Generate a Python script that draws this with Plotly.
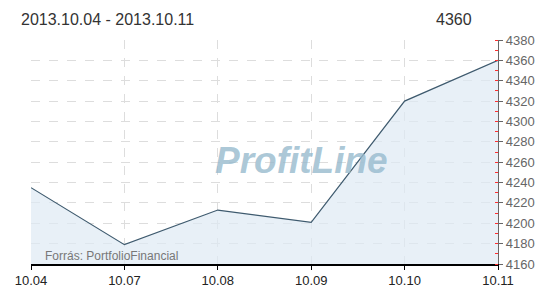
import plotly.graph_objects as go

dates = ["10.04", "10.07", "10.08", "10.09", "10.10", "10.11"]
values = [4235, 4179, 4213, 4201, 4320, 4360]
title_text = "2013.10.04 - 2013.10.11"
last_value = "4360"
source_text = "Forrás: PortfolioFinancial"
watermark = "ProfitLine"

fig = go.Figure()
fig.add_trace(go.Scatter(
    x=dates, y=values, mode="lines",
    line=dict(color="#3e5a6e", width=1.2),
    fill="tozeroy", fillcolor="rgba(222,233,243,0.7)",
    hoverinfo="skip", showlegend=False,
))

fig.update_layout(
    width=550, height=300,
    margin=dict(l=31, r=52, t=40, b=30),
    paper_bgcolor="white", plot_bgcolor="white",
    font=dict(family="Liberation Sans, Arial, sans-serif", size=13, color="#333"),
    showlegend=False,
)
fig.update_xaxes(
    type="category", range=[0, len(dates) - 1],
    showgrid=True, gridcolor="#dddddd", griddash="dash", gridwidth=1,
    showline=True, linecolor="#000000", linewidth=1.5,
    ticks="outside", ticklen=4, tickcolor="#000000",
    tickfont=dict(color="#222", size=13),
    zeroline=False, fixedrange=True,
)
fig.update_yaxes(
    side="right", range=[4160, 4380], dtick=20, tick0=4160,
    showgrid=True, gridcolor="#dddddd", griddash="dash", gridwidth=1,
    showline=True, linecolor="#666666", linewidth=1.2,
    ticks="outside", ticklen=4, tickcolor="#666666",
    tickfont=dict(color="#666", size=13),
    minor=dict(dtick=10, ticks="inside", ticklen=3, tickcolor="#ff3030", showgrid=False),
    zeroline=False, fixedrange=True,
)

fig.add_annotation(
    text=title_text, xref="paper", yref="paper", x=0.0, xshift=-12, y=1.0, yshift=21,
    xanchor="left", yanchor="middle", showarrow=False,
    font=dict(size=16, color="#333"),
)
fig.add_annotation(
    text=last_value, xref="paper", yref="paper", x=1.0, xshift=-24, y=1.0, yshift=21,
    xanchor="right", yanchor="middle", showarrow=False,
    font=dict(size=16, color="#333"),
)
fig.add_annotation(
    text=source_text, xref="paper", yref="paper", x=0.0, xshift=12, y=0.0, yshift=8,
    xanchor="left", yanchor="middle", showarrow=False,
    font=dict(size=12, color="#777"),
)
fig.add_annotation(
    text=watermark, xref="paper", yref="paper", x=0.58, y=0.46,
    xanchor="center", yanchor="middle", showarrow=False,
    font=dict(size=37, color="rgba(150,185,205,0.8)", weight="bold", style="italic",
              family="Liberation Sans, Arial, sans-serif"),
)

fig.write_html("out.html")
